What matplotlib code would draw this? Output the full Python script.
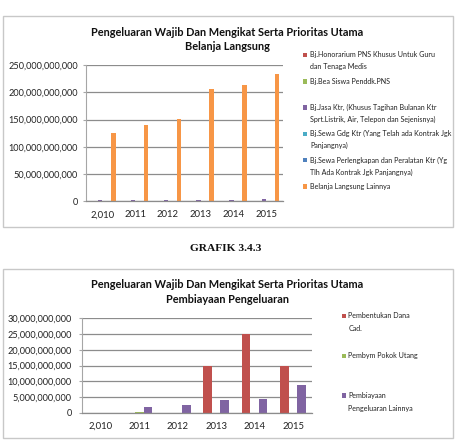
import matplotlib
matplotlib.use("Agg")
import matplotlib.pyplot as plt
from matplotlib.patches import Rectangle
import numpy as np

# ---------------- data ----------------
years = ["2,010", "2011", "2012", "2013", "2014", "2015"]

top_title = "Pengeluaran Wajib Dan Mengikat Serta Prioritas Utama\nBelanja Langsung"
top_series = [
    "Bj.Honorarium PNS Khusus Untuk Guru\ndan Tenaga Medis",
    "Bj.Bea Siswa Penddk.PNS",
    "Bj.Jasa Ktr, (Khusus Tagihan Bulanan Ktr\nSprt.Listrik, Air, Telepon dan Sejenisnya)",
    "Bj.Sewa Gdg Ktr (Yang Telah ada Kontrak Jgk\nPanjangnya)",
    "Bj.Sewa Perlengkapan dan Peralatan Ktr (Yg\nTlh Ada Kontrak Jgk Panjangnya)",
    "Belanja Langsung Lainnya",
]
honorarium = [0.0, 0.3e9, 0.6e9, 0.3e9, 0.0, 0.0]
bea_siswa = [0.0, 0.0, 0.0, 0.0, 0.0, 0.0]
jasa_ktr = [1.5e9, 1.8e9, 2.0e9, 2.0e9, 2.2e9, 3.8e9]
sewa_gdg = [0.0, 0.0, 0.0, 0.0, 0.0, 0.0]
sewa_perlengkapan = [0.0, 0.0, 0.0, 0.0, 0.0, 0.0]
belanja_lainnya = [125.8e9, 139.4e9, 151.5e9, 205.4e9, 213.3e9, 232.9e9]

caption = "GRAFIK 3.4.3"

bot_title = "Pengeluaran Wajib Dan Mengikat Serta Prioritas Utama\nPembiayaan Pengeluaran"
bot_series = [
    "Pembentukan Dana\nCad.",
    "Pembym Pokok Utang",
    "Pembiayaan\nPengeluaran Lainnya",
]
dana_cad = [0.0, 0.0, 0.0, 15e9, 25e9, 15e9]
pokok_utang = [0.0, 0.15e9, 0.0, 0.0, 0.0, 0.0]
pengeluaran_lainnya = [0.0, 1.95e9, 2.3e9, 3.9e9, 4.5e9, 8.8e9]

top_colors = ["#C0504D", "#9BBB59", "#8064A2", "#4BACC6", "#4F81BD", "#F79646"]
bot_colors = ["#C0504D", "#9BBB59", "#8064A2"]

# ---------------- layout helpers ----------------
W, H = 458, 443
fig = plt.figure(figsize=(W / 100, H / 100), dpi=100)
fig.patch.set_facecolor("white")

def fx(px):
    return px / W

def fy(py):
    return 1 - py / H

SANS = "Lato"

def box(x0, y0, x1, y1):
    fig.add_artist(Rectangle((fx(x0), fy(y1)), fx(x1) - fx(x0), fy(y0) - fy(y1),
                             transform=fig.transFigure, fill=False,
                             edgecolor="#C8C8C8", linewidth=1.0))

def style_axes(ax, ymax, step, tickpad):
    ax.set_xlim(-0.5, 5.5)
    ax.set_ylim(0, ymax)
    ticks = np.arange(0, ymax + step / 2, step)
    ax.set_yticks(ticks)
    ax.set_yticklabels([f"{t:,.0f}" for t in ticks], fontfamily=SANS, fontsize=6.6)
    ax.set_xticks(range(len(years)))
    ax.set_xticklabels(years, fontfamily=SANS, fontsize=6.8)
    ax.yaxis.grid(True, color="#8C8C8C", linewidth=0.9)
    ax.set_axisbelow(True)
    for s in ["top", "right"]:
        ax.spines[s].set_visible(False)
    ax.spines["left"].set_color("#A6A6A6")
    ax.spines["bottom"].set_color("#8C8C8C")
    ax.spines["left"].set_linewidth(0.8)
    ax.spines["bottom"].set_linewidth(0.9)
    ax.tick_params(axis="y", length=2.2, width=0.8, pad=tickpad,
                   colors="#A6A6A6", labelcolor="#222222")
    ax.tick_params(axis="x", length=0, pad=6.5, labelcolor="#222222")

def legend(labels, colors, mx, tx, y0, dy, ldy):
    for i, (lab, c) in enumerate(zip(labels, colors)):
        y = y0 + i * dy
        fig.add_artist(Rectangle((fx(mx - 2.2), fy(y + 2.2)), 4.4 / W, 4.4 / H,
                                 transform=fig.transFigure, facecolor=c, edgecolor="none"))
        for j, line in enumerate(lab.split("\n")):
            fig.text(fx(tx), fy(y + j * ldy), line, family=SANS, fontsize=5.15,
                     ha="left", va="center", color="#222222")

# ---------------- top chart ----------------
box(3, 15.7, 453, 226.7)
ax1 = fig.add_axes([fx(86), fy(201.3), fx(282.7) - fx(86), fy(65) - fy(201.3)])
x = np.arange(len(years))
top_values = [honorarium, bea_siswa, jasa_ktr, sewa_gdg, sewa_perlengkapan, belanja_lainnya]
w1 = 1 / 7.5
for i, (vals, c) in enumerate(zip(top_values, top_colors)):
    ax1.bar(x + (i - 2.5) * w1, vals, width=w1, color=c, linewidth=0)
style_axes(ax1, 250e9, 50e9, 3.8)
for k, line in enumerate(top_title.split("\n")):
    fig.text(fx(227.5), fy(32 + k * 14.5), line, family=SANS, fontweight="bold",
             fontsize=7.95, ha="center", va="center", color="#111111")
legend(top_series, top_colors, 305, 310.5, 55, 26.3, 11.9)

# ---------------- caption ----------------
fig.text(fx(226), fy(248.3), caption, family=["Liberation Serif", "DejaVu Serif"],
         fontweight="bold", fontsize=8.2, ha="center", va="center", color="#111111")

# ---------------- bottom chart ----------------
box(3, 269, 453, 438)
ax2 = fig.add_axes([fx(81.7), fy(412.7), fx(312.3) - fx(81.7), fy(318.3) - fy(412.7)])
bot_values = [dana_cad, pokok_utang, pengeluaran_lainnya]
w2 = 1 / 4.5
for i, (vals, c) in enumerate(zip(bot_values, bot_colors)):
    ax2.bar(x + (i - 1) * w2, vals, width=w2, color=c, linewidth=0)
style_axes(ax2, 30e9, 5e9, 5.0)
for k, line in enumerate(bot_title.split("\n")):
    fig.text(fx(227.5), fy(284.3 + k * 15), line, family=SANS, fontweight="bold",
             fontsize=7.95, ha="center", va="center", color="#111111")
legend(bot_series, bot_colors, 344.2, 348.5, 316, 39.8, 12.8)

fig.savefig("out.png", dpi=100, facecolor="white")
